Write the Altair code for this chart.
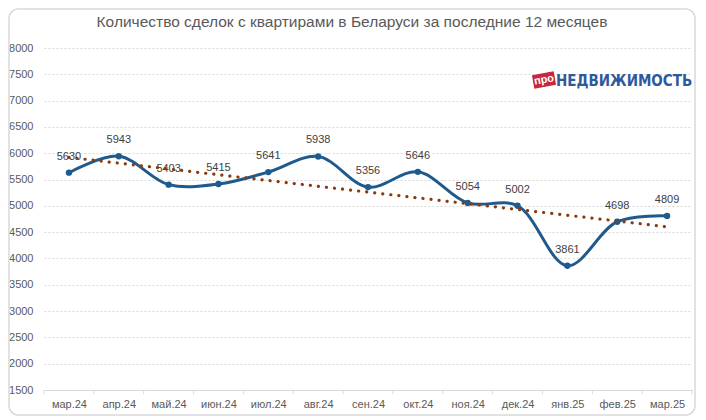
import altair as alt
import pandas as pd

months = ["мар.24", "апр.24", "май.24", "июн.24", "июл.24", "авг.24", "сен.24",
          "окт.24", "ноя.24", "дек.24", "янв.25", "фев.25", "мар.25"]
values = [5630, 5943, 5403, 5415, 5641, 5938, 5356, 5646, 5054, 5002, 3861, 4698, 4809]
y_ticks = list(range(1500, 8001, 500))
title_text = "Количество сделок с квартирами в Беларуси за последние 12 месяцев"

df = pd.DataFrame({"idx": list(range(len(months))), "month": months, "value": values})
bounds_df = pd.DataFrame({"b": [i - 0.5 for i in range(len(months) + 1)]})
one = pd.DataFrame({"a": [0]})

W, H = 648, 342
FONT = "Liberation Sans"
LINE = "#1F5A8E"

xscale = alt.Scale(domain=[-0.5, len(months) - 0.5], nice=False, zero=False)
yscale = alt.Scale(domain=[1500, 8000], nice=False, zero=False)
label_expr = "[" + ",".join("'" + m + "'" for m in months) + "][datum.value]"

x_axis = alt.Axis(values=list(range(len(months))), labelExpr=label_expr,
                  ticks=False, grid=False, domain=True, domainColor="#D9D9D9",
                  labelColor="#595959", labelFontSize=11, labelFont=FONT,
                  labelPadding=8, labelFlush=False, labelOverlap=False)
y_axis = alt.Axis(values=y_ticks, format="d", grid=True, gridColor="#D9D9D9",
                  gridDash=[2, 2], domain=False, ticks=False, labelPadding=11,
                  labelColor="#595959", labelFontSize=11, labelFont=FONT,
                  labelOverlap=False, labelFlush=False, tickCount=14)


def xe(field="idx:Q"):
    return alt.X(field, scale=xscale, title=None, axis=x_axis)


def ye():
    return alt.Y("value:Q", scale=yscale, title=None, axis=y_axis)


base = alt.Chart(df)

border = alt.Chart(one).mark_rect(fillOpacity=0, stroke="#D9D9D9", strokeWidth=1.5,
                                  cornerRadius=9).encode(
    x=alt.value(-35), x2=alt.value(W + 3), y=alt.value(-39), y2=alt.value(H + 25))

title = alt.Chart(one).mark_text(text=title_text, fontSize=15.5, font=FONT, color="#595959",
                                 align="center", baseline="middle").encode(
    x=alt.value(308), y=alt.value(-26))

line = base.mark_line(interpolate="catmull-rom", color=LINE, strokeWidth=3).encode(
    x=xe(), y=ye())
pts = base.mark_circle(size=40, color=LINE, opacity=1).encode(x=xe(), y=ye())
labels = base.mark_text(dy=-16, fontSize=11, font=FONT, color="#404040").encode(
    x=xe(), y=ye(), text="value:Q")
trend = base.transform_regression("idx", "value", method="linear",
                                  extent=[0, len(months) - 1]).mark_line(
    color="#8B3A0E", strokeWidth=3.2, strokeDash=[0.1, 8], strokeCap="round").encode(
    x=xe(), y=ye())

ticks = alt.Chart(bounds_df).mark_rule(color="#D9D9D9").encode(
    x=xe("b:Q"), y=alt.value(H), y2=alt.value(H + 4))

logo_tag = alt.Chart(one).mark_point(
    shape="M -1.6 -1 L 1.6 -1 L 1.6 1 L -1.6 1 Z", filled=True, fill="#C8283A",
    opacity=1, size=190, angle=350, strokeWidth=0).encode(x=alt.value(500), y=alt.value(32))
logo_pro = alt.Chart(one).mark_text(text="про", color="white", fontSize=11,
                                    fontWeight="bold", font=FONT, angle=350,
                                    align="center", baseline="middle").encode(
    x=alt.value(500), y=alt.value(32))
logo_text = alt.Chart(one).mark_text(text="НЕДВИЖИМОСТЬ", color="#2E5A9C", fontSize=15,
                                     fontWeight="bold",
                                     font="DejaVu Sans Condensed, Liberation Sans",
                                     align="left", baseline="alphabetic").encode(
    x=alt.value(512), y=alt.value(38))

chart = alt.layer(border, title, ticks, line, pts, labels, trend,
                  logo_tag, logo_pro, logo_text).properties(
    width=W, height=H,
    autosize=alt.AutoSizeParams(type="none"),
    padding={"left": 36, "top": 40, "right": 4, "bottom": 26},
).configure_view(stroke=None).configure_axisY(labelOverlap=False)

chart.save("out.html", embed_options={"renderer": "svg", "actions": False})
